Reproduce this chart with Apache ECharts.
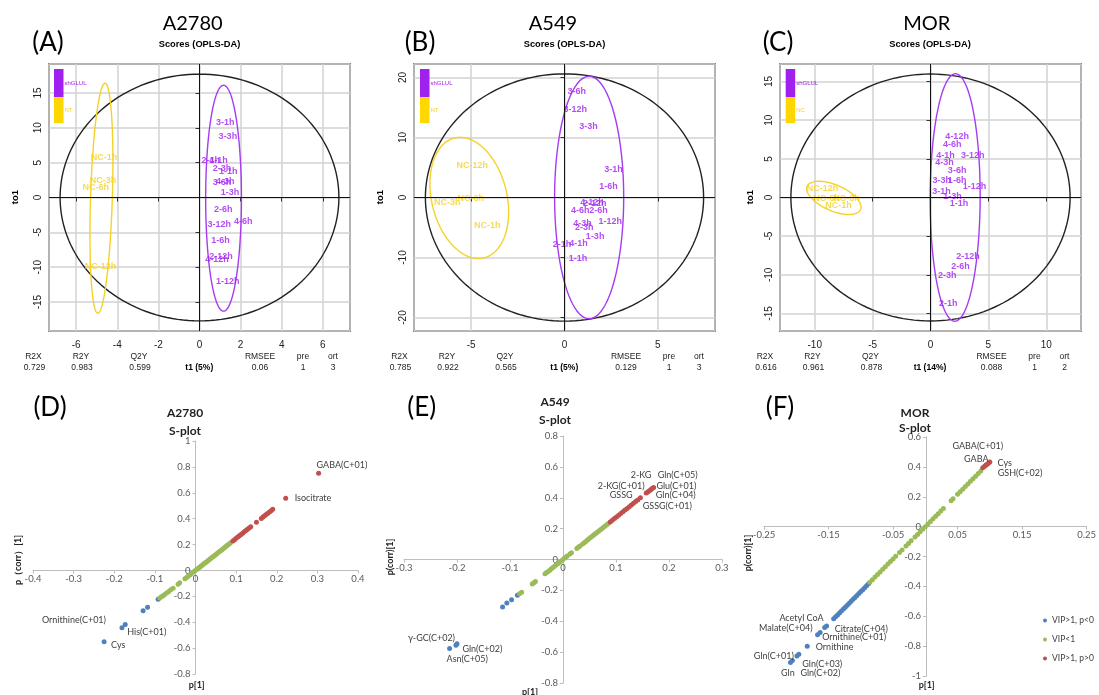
<!DOCTYPE html>
<html>
<head>
<meta charset="utf-8">
<script src="https://cdn.jsdelivr.net/npm/echarts@6/dist/echarts.min.js"></script>
<style>
  html, body { margin: 0; padding: 0; background: #fff; }
  #chart { width: 1099px; height: 695px; }
</style>
</head>
<body>
<div id="chart"></div>
<script>
// ---------- OPLS-DA score labels: [sample, t1, to1] ----------
const scoresA2780_sh = [
  ['3-1h', 1.25, 10.75], ['3-3h', 1.38, 8.8], ['2-1h', 0.55, 5.34], ['4-1h', 0.92, 5.34],
  ['2-3h', 1.1, 4.15], ['1-1h', 1.4, 3.66], ['3-6h', 1.1, 2.2], ['4-3h', 1.25, 2.3],
  ['1-3h', 1.48, 0.65], ['2-6h', 1.15, -1.7], ['3-12h', 0.96, -3.9], ['4-6h', 2.13, -3.5],
  ['1-6h', 1.02, -6.2], ['2-12h', 1.05, -8.4], ['4-12h', 0.85, -8.9], ['1-12h', 1.37, -12.0]
];
const scoresA2780_nt = [
  ['NC-1h', -4.64, 5.72], ['NC-3h', -4.69, 2.45], ['NC-6h', -5.05, 1.37], ['NC-12h', -4.82, -9.83]
];
const scoresA549_sh = [
  ['3-6h', 0.66, 17.6], ['3-12h', 0.57, 14.7], ['3-3h', 1.29, 11.8], ['3-1h', 2.62, 4.7],
  ['1-6h', 2.36, 1.77], ['4-12h', 1.47, -0.83], ['2-12h', 1.62, -1.0], ['4-6h', 0.84, -2.1],
  ['2-6h', 1.82, -2.1], ['1-12h', 2.45, -4.07], ['4-3h', 0.97, -4.35], ['2-3h', 1.06, -5.0],
  ['1-3h', 1.64, -6.56], ['2-1h', -0.14, -7.8], ['4-1h', 0.75, -7.67], ['1-1h', 0.72, -10.2]
];
const scoresA549_nt = [
  ['NC-12h', -4.94, 5.27], ['NC-6h', -5.02, -0.17], ['NC-3h', -6.28, -0.83], ['NC-1h', -4.14, -4.72]
];
const scoresMOR_sh = [
  ['4-12h', 2.3, 7.93], ['4-6h', 1.87, 6.86], ['4-1h', 1.3, 5.38], ['3-12h', 3.64, 5.38],
  ['4-3h', 1.2, 4.53], ['3-6h', 2.3, 3.53], ['3-3h', 0.98, 2.24], ['1-6h', 2.3, 2.24],
  ['1-12h', 3.8, 1.37], ['3-1h', 0.95, 0.72], ['1-3h', 1.9, 0.08], ['1-1h', 2.47, -0.78],
  ['2-12h', 3.24, -7.6], ['2-6h', 2.59, -8.97], ['2-3h', 1.44, -10.05], ['2-1h', 1.53, -13.7]
];
const scoresMOR_nt = [
  ['NC-12h', -9.33, 1.16], ['NC-6h', -8.98, -0.13], ['NC-3h', -7.25, -0.13], ['NC-1h', -7.95, -1.09]
];

// ---------- confidence ellipses: [cx, cy, ux, uy, vx, vy] (two conjugate semi-diameters) ----------
// order: Hotelling T2, control group, shGLUL group
const ellipsesA2780 = [[0, 0, 0, 17.7, 6.78, 0], [-4.77, -0.1, 0.175, 16.5, 0.53, 0], [1.17, -0.1, 0, 16.2, 0.87, 0]];
const ellipsesA549  = [[0, 0, 0, 20.6, 7.45, 0], [-5.1, -0.07, -0.49, 10.1, 2.05, 0], [1.32, 0, 0, 20.2, 1.85, 0]];
const ellipsesMOR   = [[0, 0, 0, 15.97, 12.06, 0], [-8.35, -0.05, -1.29, 2.15, 1.96, 0], [2.13, 0, 0.03, 16.0, 2.16, 0]];

// ---------- model statistics ----------
const statNames = ['R2X', 'R2Y', 'Q2Y', 'RMSEE', 'pre', 'ort'];
const statsA2780 = ['0.729', '0.983', '0.599', '0.06', '1', '3'];
const statsA549  = ['0.785', '0.922', '0.565', '0.129', '1', '3'];
const statsMOR   = ['0.616', '0.961', '0.878', '0.088', '1', '2'];
const t1Labels = ['t1 (5%)', 't1 (5%)', 't1 (14%)'];
const cellLines = ['A2780', 'A549', 'MOR'];
const groupNamesTop = [['shGLUL', 'NT'], ['shGLUL', 'NT'], ['shGLUL', 'NC']];

// ---------- S-plot points: [p[1], p(corr)[1]] ----------
const sA2780_neg = [[-0.092, -0.223], [-0.118, -0.285], [-0.129, -0.311]];
const sA2780_negLab = [['His(C+01)', -0.173, -0.417], ['Ornithine(C+01)', -0.181, -0.443], ['Cys', -0.225, -0.551]];
const sA2780_low = [
  [-0.088, -0.212], [-0.084, -0.204], [-0.080, -0.195], [-0.076, -0.186], [-0.071, -0.175], [-0.066, -0.162],
  [-0.061, -0.150], [-0.055, -0.137], [-0.043, -0.106], [-0.039, -0.096], [-0.026, -0.064], [-0.022, -0.054],
  [-0.018, -0.045], [-0.013, -0.033], [-0.009, -0.022], [-0.005, -0.012], [-0.002, -0.005], [0.002, 0.005],
  [0.005, 0.012], [0.008, 0.020], [0.011, 0.027], [0.014, 0.034], [0.017, 0.042], [0.020, 0.049],
  [0.023, 0.057], [0.026, 0.064], [0.029, 0.071], [0.032, 0.079], [0.035, 0.086], [0.038, 0.094],
  [0.041, 0.101], [0.044, 0.108], [0.047, 0.116], [0.050, 0.123], [0.053, 0.131], [0.056, 0.138],
  [0.059, 0.146], [0.062, 0.153], [0.065, 0.160], [0.068, 0.168], [0.071, 0.175], [0.074, 0.183],
  [0.077, 0.190], [0.080, 0.198], [0.083, 0.205], [0.086, 0.213]
];
const sA2780_pos = [
  [0.092, 0.228], [0.096, 0.238], [0.100, 0.248], [0.104, 0.258], [0.108, 0.268], [0.112, 0.278],
  [0.116, 0.288], [0.120, 0.298], [0.124, 0.308], [0.128, 0.318], [0.132, 0.328], [0.136, 0.338],
  [0.150, 0.372], [0.162, 0.402], [0.166, 0.412], [0.170, 0.422], [0.174, 0.432], [0.178, 0.442],
  [0.182, 0.452], [0.186, 0.462], [0.190, 0.472]
];
const sA2780_posLab = [['Isocitrate', 0.222, 0.557], ['GABA(C+01)', 0.303, 0.75]];

const sA549_neg = [[-0.086, -0.232], [-0.097, -0.260], [-0.106, -0.281], [-0.114, -0.307]];
const sA549_negLab = [['γ-GC(C+02)', -0.200, -0.545], ['Gln(C+02)', -0.202, -0.556], ['Asn(C+05)', -0.214, -0.577]];
const sA549_low = [
  [-0.082, -0.222], [-0.078, -0.212], [-0.058, -0.158], [-0.055, -0.150], [-0.052, -0.142], [-0.034, -0.093],
  [-0.031, -0.085], [-0.028, -0.077], [-0.025, -0.069], [-0.022, -0.060], [-0.019, -0.052], [-0.016, -0.044],
  [-0.013, -0.036], [-0.010, -0.028], [-0.007, -0.019], [-0.004, -0.011], [-0.001, -0.003], [0.002, 0.006],
  [0.005, 0.014], [0.008, 0.022], [0.013, 0.036], [0.016, 0.044], [0.026, 0.071], [0.029, 0.079],
  [0.032, 0.088], [0.037, 0.101], [0.040, 0.109], [0.043, 0.117], [0.046, 0.126], [0.049, 0.134],
  [0.052, 0.142], [0.055, 0.150], [0.058, 0.158], [0.061, 0.167], [0.064, 0.175], [0.067, 0.183],
  [0.070, 0.191], [0.073, 0.199], [0.076, 0.207], [0.079, 0.216], [0.082, 0.224], [0.085, 0.232]
];
const sA549_pos = [
  [0.089, 0.243], [0.093, 0.254], [0.097, 0.265], [0.101, 0.276], [0.105, 0.287], [0.109, 0.298],
  [0.113, 0.309], [0.117, 0.320], [0.121, 0.331], [0.125, 0.342], [0.129, 0.353], [0.133, 0.364],
  [0.137, 0.375], [0.141, 0.386]
];
const sA549_posLab = [
  ['GSSG', 0.146, 0.400], ['GSSG(C+01)', 0.157, 0.430], ['Gln(C+04)', 0.160, 0.438], ['2-KG(C+01)', 0.163, 0.446],
  ['Glu(C+01)', 0.166, 0.454], ['2-KG', 0.168, 0.460], ['Gln(C+05)', 0.171, 0.467]
];

const sMOR_neg = [
  [-0.088, -0.383], [-0.091, -0.396], [-0.094, -0.409], [-0.097, -0.422], [-0.100, -0.435], [-0.103, -0.448],
  [-0.106, -0.461], [-0.109, -0.474], [-0.112, -0.487], [-0.115, -0.500], [-0.118, -0.513], [-0.121, -0.526],
  [-0.124, -0.539], [-0.127, -0.552], [-0.130, -0.565], [-0.133, -0.578], [-0.136, -0.591], [-0.139, -0.604],
  [-0.142, -0.617]
];
const sMOR_negLab = [
  ['Acetyl CoA', -0.153, -0.665], ['Citrate(C+04)', -0.156, -0.676], ['Ornithine(C+01)', -0.163, -0.708],
  ['Malate(C+04)', -0.167, -0.724], ['Ornithine', -0.183, -0.800], ['Gln(C+01)', -0.196, -0.855],
  ['Gln(C+03)', -0.199, -0.866], ['Gln(C+02)', -0.206, -0.896], ['Gln', -0.209, -0.910]
];
const sMOR_low = [
  [-0.086, -0.372], [-0.082, -0.355], [-0.078, -0.338], [-0.074, -0.320], [-0.070, -0.303], [-0.066, -0.286],
  [-0.062, -0.268], [-0.058, -0.251], [-0.054, -0.234], [-0.050, -0.216], [-0.046, -0.199], [-0.040, -0.173],
  [-0.036, -0.156], [-0.030, -0.130], [-0.026, -0.113], [-0.022, -0.095], [-0.016, -0.069], [-0.012, -0.052],
  [-0.008, -0.035], [-0.004, -0.017], [0.000, 0.000], [0.004, 0.017], [0.008, 0.035], [0.012, 0.052],
  [0.016, 0.069], [0.020, 0.087], [0.024, 0.104], [0.028, 0.121], [0.040, 0.173], [0.043, 0.186],
  [0.050, 0.216], [0.054, 0.234], [0.058, 0.251], [0.062, 0.268], [0.066, 0.286], [0.070, 0.303],
  [0.074, 0.320], [0.078, 0.338], [0.082, 0.355], [0.086, 0.372]
];
const sMOR_pos = [[0.089, 0.394], [0.094, 0.412]];
const sMOR_posLab = [['GABA', 0.092, 0.404], ['GSH(C+02)', 0.096, 0.418], ['Cys', 0.098, 0.426], ['GABA(C+01)', 0.100, 0.433]];

const groupNamesS = ['VIP>1, p<0', 'VIP<1', 'VIP>1, p>0'];

// ---------- styling ----------
const FONT_R = '"Liberation Sans", Arial, sans-serif';
const FONT_X = 'Lato, "Open Sans", sans-serif';
const PURPLE = '#A020F0';
const GOLD = '#FFD700';
const GOLD_LINE = '#F5D228';
const BLUE = '#4F81BD', GREEN = '#9BBB59', RED = '#C0504D';
const ELLIPSE_COLORS = ['#222222', GOLD_LINE, '#A63CF2'];

// callout placement for annotated metabolites: [align, dx, dy]
const calloutPlacement = [
  { 'His(C+01)': ['left', 2, 8], 'Ornithine(C+01)': ['right', -16, -8], 'Cys': ['left', 7, 3],
    'Isocitrate': ['left', 9, 0], 'GABA(C+01)': ['left', -2, -8] },
  { 'γ-GC(C+02)': ['right', -2, -6], 'Gln(C+02)': ['left', 6.5, 4], 'Asn(C+05)': ['left', -3, 11],
    'GSSG': ['right', -7.7, -2.6], 'GSSG(C+01)': ['left', -3.5, 12.7], 'Gln(C+04)': ['left', 8, 3.2],
    '2-KG(C+01)': ['right', -4.7, -4.5], 'Glu(C+01)': ['left', 5.4, -3.3], '2-KG': ['right', -0.6, -13.4],
    'Gln(C+05)': ['left', 4, -12.3] },
  { 'Acetyl CoA': ['right', -3, -7.6], 'Citrate(C+04)': ['left', 10, 1], 'Ornithine(C+01)': ['left', 2, 5],
    'Malate(C+04)': ['right', -5, -6.4], 'Ornithine': ['left', 8.5, 1], 'Gln(C+01)': ['right', -5, 1.4],
    'Gln(C+03)': ['left', 5.4, 8], 'Gln(C+02)': ['left', 8, 13], 'Gln': ['center', -2.6, 10.8],
    'GABA': ['center', -8.4, -7], 'GSH(C+02)': ['left', 10.5, 9.4], 'Cys': ['left', 9, 0],
    'GABA(C+01)': ['center', -12, -15.6] }
];

// ---------- layout ----------
const topGrids = [
  { left: 49, top: 64, width: 301, height: 267 },
  { left: 414, top: 64, width: 301, height: 267 },
  { left: 780, top: 64, width: 301, height: 267 }
];
const topRanges = [
  { x: [-7.32, 7.32, 2], y: [-19.15, 19.15, 5] },
  { x: [-8.06, 8.06, 5], y: [-22.25, 22.25, 10] },
  { x: [-13, 13, 5], y: [-17.27, 17.27, 5] }
];
const sGrids = [
  { left: 33, top: 441, width: 325, height: 233 },
  { left: 404, top: 436, width: 318, height: 247 },
  { left: 764, top: 437, width: 324, height: 239 }
];
const sRanges = [
  { x: [-0.4, 0.4, 0.1], y: [-0.8, 1, 0.2] },
  { x: [-0.3, 0.3, 0.1], y: [-0.8, 0.8, 0.2] },
  { x: [-0.25, 0.25, 0.1], y: [-1, 0.6, 0.2] }
];

function rAxis(range, gridIndex, vertical) {
  const step = range[2];
  return {
    type: 'value', gridIndex, min: range[0], max: range[1],
    minInterval: step, maxInterval: step,
    axisLine: { show: false },
    axisTick: { show: true, inside: false, length: 4, lineStyle: { color: '#333', width: 1 } },
    axisLabel: {
      showMinLabel: false, showMaxLabel: false,
      color: '#222', fontFamily: FONT_R, fontSize: 10, margin: vertical ? 6 : 9,
      rotate: vertical ? 90 : 0,
      formatter: v => (Math.abs(v / step - Math.round(v / step)) < 1e-6 ? String(Math.round(v)) : '')
    },
    splitLine: { show: true, lineStyle: { color: '#d2d2d2', width: 1.5 } }
  };
}
// S-plot axes cross at the origin: each axis is shifted from the grid edge to the zero of the other axis
function sAxis(range, otherRange, gridIndex, vertical, g) {
  const span = vertical ? g.width : g.height;
  const offset = -span * (0 - otherRange[0]) / (otherRange[1] - otherRange[0]);
  return {
    type: 'value', gridIndex, min: range[0], max: range[1], interval: range[2],
    position: vertical ? 'left' : 'bottom', offset,
    axisLine: { show: true, onZero: false, lineStyle: { color: '#bdbdbd', width: 1 } },
    axisTick: { show: true, inside: false, length: 3, lineStyle: { color: '#bdbdbd' } },
    axisLabel: {
      color: '#595959', fontFamily: FONT_X, fontSize: 9.5, margin: vertical ? 5 : 3,
      formatter: v => String(Math.round(v * 100) / 100)
    },
    splitLine: { show: false }
  };
}

function ellipseRenderer(params, api) {
  const cx = api.value(0), cy = api.value(1), ux = api.value(2), uy = api.value(3), vx = api.value(4), vy = api.value(5);
  const pts = [];
  const n = 160;
  for (let k = 0; k <= n; k++) {
    const t = (k / n) * Math.PI * 2;
    pts.push(api.coord([cx + ux * Math.cos(t) + vx * Math.sin(t), cy + uy * Math.cos(t) + vy * Math.sin(t)]));
  }
  return {
    type: 'polyline', shape: { points: pts },
    style: { stroke: ELLIPSE_COLORS[params.dataIndex], fill: 'none', lineWidth: 1.4 }
  };
}

const xAxes = [], yAxes = [], series = [];
const topScores = [[scoresA2780_sh, scoresA2780_nt], [scoresA549_sh, scoresA549_nt], [scoresMOR_sh, scoresMOR_nt]];
const topEllipses = [ellipsesA2780, ellipsesA549, ellipsesMOR];

topGrids.forEach((g, i) => {
  xAxes.push(rAxis(topRanges[i].x, i, false));
  yAxes.push(rAxis(topRanges[i].y, i, true));
  series.push({
    type: 'custom', xAxisIndex: i, yAxisIndex: i, silent: true, z: 3,
    renderItem: ellipseRenderer, data: topEllipses[i]
  });
  const colors = [PURPLE, GOLD_LINE];
  topScores[i].forEach((arr, k) => {
    series.push({
      type: 'scatter', xAxisIndex: i, yAxisIndex: i, silent: true, z: 4,
      symbolSize: 1, itemStyle: { color: 'rgba(0,0,0,0)' },
      data: arr.map(d => ({ name: d[0], value: [d[1], d[2]] })),
      label: {
        show: true, position: 'inside', formatter: '{b}', color: colors[k],
        fontFamily: FONT_R, fontWeight: 'bold', fontSize: 9
      },
      markLine: k === 0 ? {
        silent: true, symbol: 'none', label: { show: false }, animation: false,
        lineStyle: { color: '#111', width: 1, type: 'solid' },
        data: [{ xAxis: 0 }, { yAxis: 0 }]
      } : undefined
    });
  });
});

const sGroups = [
  [[sA2780_neg, sA2780_negLab], [sA2780_low, []], [sA2780_pos, sA2780_posLab]],
  [[sA549_neg, sA549_negLab], [sA549_low, []], [sA549_pos, sA549_posLab]],
  [[sMOR_neg, sMOR_negLab], [sMOR_low, []], [sMOR_pos, sMOR_posLab]]
];
const sColors = [BLUE, GREEN, RED];

sGrids.forEach((g, j) => {
  const gi = j + 3;
  xAxes.push(sAxis(sRanges[j].x, sRanges[j].y, gi, false, g));
  yAxes.push(sAxis(sRanges[j].y, sRanges[j].x, gi, true, g));
  sGroups[j].forEach((grp, k) => {
    const plain = grp[0].map(d => ({ value: d }));
    const named = grp[1].map(d => {
      const p = calloutPlacement[j][d[0]];
      return {
        name: d[0], value: [d[1], d[2]],
        label: {
          show: true, position: 'inside', formatter: '{b}', align: p[0], verticalAlign: 'middle',
          offset: [p[1], p[2]], color: '#404040', fontFamily: FONT_X, fontSize: 9
        }
      };
    });
    series.push({
      name: groupNamesS[k], type: 'scatter', xAxisIndex: gi, yAxisIndex: gi,
      symbolSize: 5, itemStyle: { color: sColors[k], opacity: 1 }, z: 3,
      data: plain.concat(named)
    });
  });
});

// ---------- text elements ----------
function T(x, y, text, size, o = {}) {
  return {
    type: 'text', x, y, rotation: o.rot || 0, silent: true, z: 10,
    style: {
      text, fill: o.color || '#000', fontSize: size, fontFamily: o.font || FONT_R,
      fontWeight: o.bold ? 'bold' : 'normal', align: o.align || 'center', verticalAlign: 'middle'
    }
  };
}
const elements = [];
const topTitlePos = [[192.7, 24, 48, 43, 199.5], [553, 24, 420, 43, 564.5], [926.7, 24, 778, 43, 930]];
const letterTop = ['(A)', '(B)', '(C)'];
const statCols = [33.5, 81, 139, 260, 303, 333];
const statShift = [0, 366, 731.5];
const statVals = [statsA2780, statsA549, statsMOR];
const zeroX = [199.3, 564.3, 930];
const to1X = [15, 380, 750];
const legendX = [54, 420, 785.7];

for (let i = 0; i < 3; i++) {
  const p = topTitlePos[i];
  elements.push(T(p[0], p[1], cellLines[i], 20, { font: FONT_X }));
  elements.push(T(p[2], p[3], letterTop[i], 26, { font: FONT_X }));
  elements.push(T(p[4], 44, 'Scores (OPLS-DA)', 9.3, { bold: true }));
  elements.push(T(to1X[i], 197, 'to1', 9.5, { bold: true, rot: Math.PI / 2 }));
  statNames.forEach((n, c) => {
    elements.push(T(statCols[c] + statShift[i], 356.7, n, 8.5, { color: '#222' }));
    elements.push(T(statCols[c] + statShift[i] + (c < 3 ? 1 : 0), 367.3, statVals[i][c], 8.5, { color: '#222' }));
  });
  elements.push(T(zeroX[i], 367.3, t1Labels[i], 8.5, { bold: true }));
  const lx = legendX[i];
  elements.push({ type: 'rect', silent: true, z: 10, shape: { x: lx, y: 69, width: 9.5, height: 28 }, style: { fill: PURPLE } });
  elements.push({ type: 'rect', silent: true, z: 10, shape: { x: lx, y: 97, width: 9.5, height: 26 }, style: { fill: GOLD } });
  elements.push(T(lx + 10.5, 83, groupNamesTop[i][0], 6, { color: PURPLE, align: 'left' }));
  elements.push(T(lx + 10.5, 110, groupNamesTop[i][1], 6, { color: GOLD_LINE, align: 'left' }));
}

const sTitlePos = [[185, 413, 431], [555, 402.5, 420], [915, 413, 428.5]];
const letterS = [['(D)', 50], ['(E)', 421.7], ['(F)', 780]];
const pcorrNames = ['p（corr）[1]', 'p(corr)[1]', 'p(corr)[1]'];
const pcorrPos = [[18, 560], [390, 557], [748, 553]];
const p1Pos = [[196.7, 685], [530, 692], [926.7, 685]];
for (let j = 0; j < 3; j++) {
  elements.push(T(letterS[j][1], 408, letterS[j][0], 26, { font: FONT_X }));
  elements.push(T(sTitlePos[j][0], sTitlePos[j][1], cellLines[j], 12, { font: FONT_X, bold: true, color: '#222' }));
  elements.push(T(sTitlePos[j][0], sTitlePos[j][2], 'S-plot', 12, { font: FONT_X, bold: true, color: '#222' }));
  elements.push(T(pcorrPos[j][0], pcorrPos[j][1], pcorrNames[j], 9, { font: FONT_X, bold: true, color: '#222', rot: Math.PI / 2 }));
  elements.push(T(p1Pos[j][0], p1Pos[j][1], 'p[1]', 9, { font: FONT_X, bold: true, color: '#222' }));
}

const chart = echarts.init(document.getElementById('chart'), null, { renderer: 'canvas' });
chart.setOption({
  animation: false,
  backgroundColor: '#ffffff',
  grid: topGrids.map(g => Object.assign({ show: true, borderColor: '#222', borderWidth: 1.5, backgroundColor: 'transparent', containLabel: false }, g))
    .concat(sGrids.map(g => Object.assign({ show: false, containLabel: false }, g))),
  xAxis: xAxes,
  yAxis: yAxes,
  legend: {
    data: groupNamesS, orient: 'vertical', left: 1038, top: 611, icon: 'circle',
    itemWidth: 4, itemHeight: 4, itemGap: 10, selectedMode: false,
    textStyle: { fontFamily: FONT_X, fontSize: 8.5, color: '#404040' }
  },
  series,
  graphic: { elements }
});
</script>
</body>
</html>
